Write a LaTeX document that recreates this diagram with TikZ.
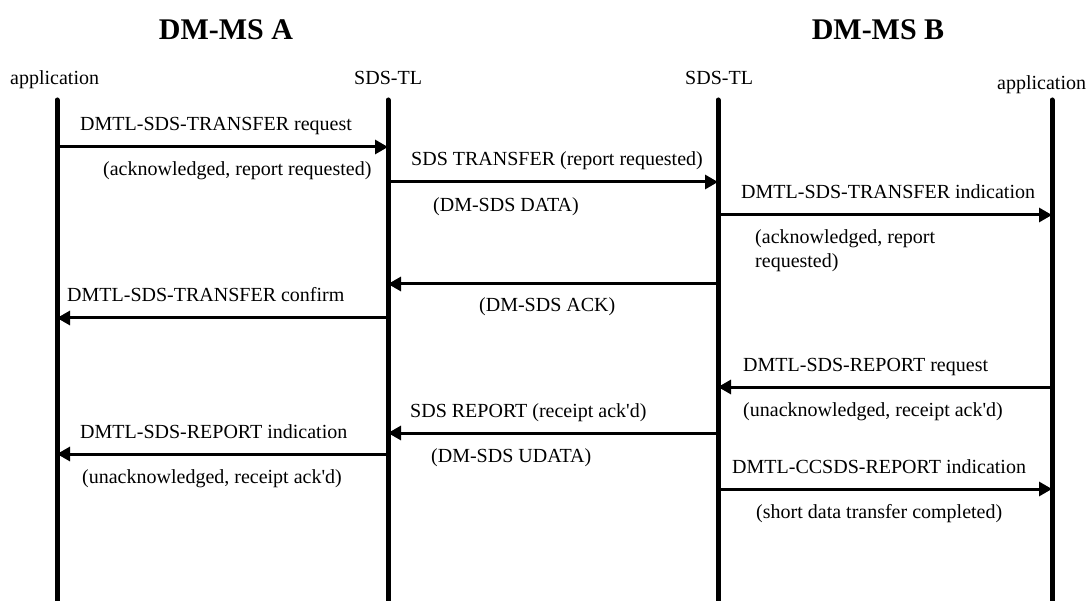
\documentclass[tikz,border=0pt]{standalone}
\usepackage{fontspec}
\setmainfont{Liberation Serif}
\usetikzlibrary{calc,arrows.meta}
\newcommand{\xappA}{57}
\newcommand{\xtlA}{388}
\newcommand{\xtlB}{718}
\newcommand{\xappB}{1052}
\newcommand{\prlife}[2]{\draw[life] (#2,100) coordinate (#1top) -- (#2,640) coordinate (#1bot);}
\newcommand{\prmsg}[4]{\coordinate (#1s) at (#2,#4); \coordinate (#1e) at (#3,#4); \draw[msg] (#1s) -- (#1e);}

\begin{document}
\begin{tikzpicture}[x=1pt,y=-1pt,
    life/.style={line width=5pt,line cap=round},
    msg/.style={line width=3pt,-{Triangle[length=13pt,width=14pt]}},
    lbl/.style={anchor=base west,inner sep=0pt,font=\fontsize{20}{24}\selectfont},
    title/.style={anchor=base,inner sep=0pt,font=\fontsize{30}{36}\selectfont\bfseries}]
	\useasboundingbox (0,0) rectangle (1089,601);

    % headings and lifelines
    \node[title] (hA) at (226,40) {DM-MS A};
    \node[title] (hB) at (878,40) {DM-MS B};
    \node[lbl] (nappA) at (10,85) {application};
    \node[lbl] (ntlA) at (354,85) {SDS-TL};
    \node[lbl] (ntlB) at (685,85) {SDS-TL};
    \node[lbl] (nappB) at (997,90) {application};
    \prlife{appA}{\xappA}
    \prlife{tlA}{\xtlA}
    \prlife{tlB}{\xtlB}
    \prlife{appB}{\xappB}

    % transfer
    \prmsg{m1}{\xappA}{\xtlA}{147}
    \node[lbl] (m1t) at (80,131) {DMTL-SDS-TRANSFER request};
    \node[lbl] (m1b) at (103,176) {(acknowledged, report requested)};
    \prmsg{m2}{\xtlA}{\xtlB}{182}
    \node[lbl] (m2t) at (411,166) {SDS TRANSFER (report requested)};
    \node[lbl] (m2b) at (433,212) {(DM-SDS DATA)};
    \prmsg{m3}{\xtlB}{\xappB}{215}
    \node[lbl] (m3t) at (741,199) {DMTL-SDS-TRANSFER indication};
    \node[lbl,align=left] (m3b) at (755,268) {(acknowledged, report\\requested)};
    \prmsg{m4}{\xtlB}{\xtlA}{284}
    \node[lbl] (m4b) at (479,312) {(DM-SDS ACK)};
    \prmsg{m5}{\xtlA}{\xappA}{318}
    \node[lbl] (m5t) at (67,302) {DMTL-SDS-TRANSFER confirm};

    % report
    \prmsg{m6}{\xappB}{\xtlB}{387}
    \node[lbl] (m6t) at (743,371) {DMTL-SDS-REPORT request};
    \node[lbl] (m6b) at (743,416) {(unacknowledged, receipt ack\textquotesingle d)};
    \prmsg{m7}{\xtlB}{\xtlA}{433}
    \node[lbl] (m7t) at (410,417) {SDS REPORT (receipt ack\textquotesingle d)};
    \node[lbl] (m7b) at (431,462) {(DM-SDS UDATA)};
    \prmsg{m8}{\xtlA}{\xappA}{454}
    \node[lbl] (m8t) at (80,438) {DMTL-SDS-REPORT indication};
    \node[lbl] (m8b) at (82,483) {(unacknowledged, receipt ack\textquotesingle d)};
    \prmsg{m9}{\xtlB}{\xappB}{489}
    \node[lbl] (m9t) at (732,473) {DMTL-CCSDS-REPORT indication};
    \node[lbl] (m9b) at (756,518) {(short data transfer completed)};
\end{tikzpicture}
\end{document}
